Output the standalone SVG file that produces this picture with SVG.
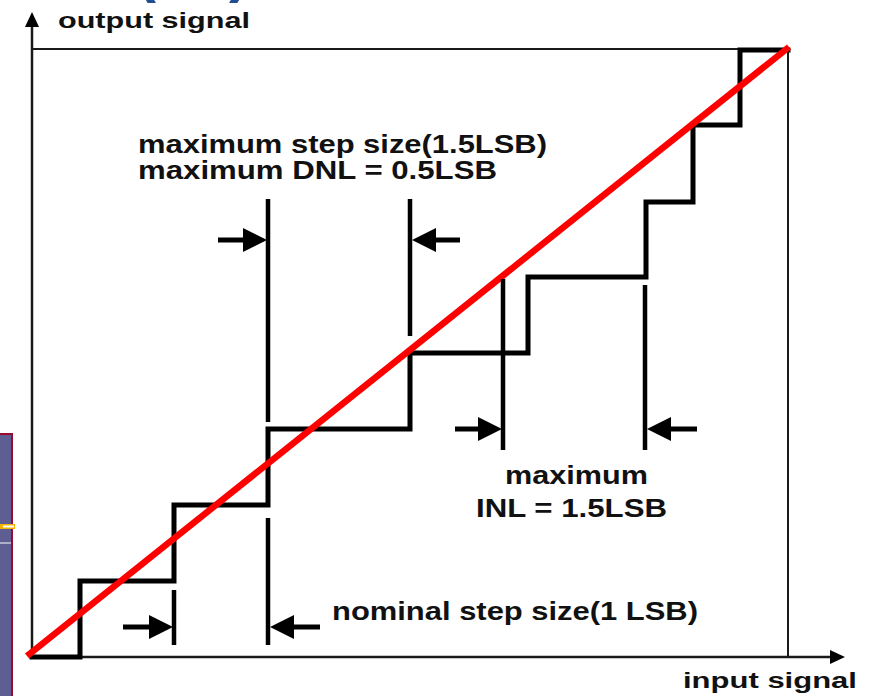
<svg xmlns="http://www.w3.org/2000/svg" width="877" height="696" viewBox="0 0 877 696">
  <style>
    .lbl { font-family: "Liberation Sans", Arial, Helvetica, sans-serif; font-weight: bold; fill: #111; }
    .frame { fill: none; stroke: #1a1a1a; stroke-width: 2; }
    .stair { fill: none; stroke: #000; stroke-width: 5; stroke-linejoin: miter; stroke-linecap: square; }
    .ideal { fill: none; stroke: #ff0000; stroke-width: 6.5; stroke-linecap: butt; }
    .tick { fill: none; stroke: #000; stroke-width: 4.5; }
    .shaft { fill: none; stroke: #000; stroke-width: 5; marker-end: url(#dimHead); }
    .axis { fill: none; stroke: #1a1a1a; stroke-width: 2.5; marker-end: url(#axisHead); }
  </style>
  <defs>
    <marker id="dimHead" markerUnits="userSpaceOnUse" viewBox="0 0 24 24" refX="0" refY="12" markerWidth="24" markerHeight="24" orient="auto">
      <path d="M0,0 L24,12 L0,24 Z" fill="#000"/>
    </marker>
    <marker id="axisHead" markerUnits="userSpaceOnUse" viewBox="0 0 16 16" refX="0" refY="8" markerWidth="16" markerHeight="16" orient="auto">
      <path d="M0,1 L15,8 L0,15 Z" fill="#000"/>
    </marker>
  </defs>

  <rect width="877" height="696" fill="#ffffff"/>

  <!-- clipped title brackets along the top edge -->
  <g id="title-fragment" fill="#1f4f8f">
    <text x="136" y="-9" style="font-family:'Liberation Sans',Arial,sans-serif;font-weight:bold;font-size:60px">(</text>
    <text x="229" y="-9" style="font-family:'Liberation Sans',Arial,sans-serif;font-weight:bold;font-size:60px">)</text>
  </g>

  <!-- side panel edge -->
  <g id="side-panel">
    <rect x="-3" y="434" width="15" height="270" fill="#5f5e93" stroke="#9a0a30" stroke-width="2"/>
    <rect x="0" y="524" width="15" height="5" fill="#f2b400"/>
    <rect x="3" y="525.5" width="11" height="2" fill="#ffffff"/>
    <line x1="0" y1="543" x2="11" y2="543" stroke="#ffffff" stroke-width="1"/>
  </g>

  <!-- plot frame and axes -->
  <g id="axes">
    <path class="frame" d="M32,49 H788 V657"/>
    <path class="axis" d="M32,657 V27"/>
    <path class="axis" d="M32,657 H830"/>
  </g>

  <!-- quantizer transfer characteristic -->
  <g id="staircase">
    <path class="stair" d="M32,657 H80 V581 H174 V505 H268 V429 H410 V353 H528 V277 H646 V202 H693 V125 H740 V50 H788"/>
  </g>

  <!-- ideal straight-line response -->
  <g id="ideal-line">
    <line class="ideal" x1="27" y1="656" x2="789" y2="47"/>
  </g>

  <!-- dimension ticks and arrows -->
  <g id="connectors">
    <line class="tick" x1="268" y1="199" x2="268" y2="422"/>
    <line class="tick" x1="410" y1="199" x2="410" y2="336"/>
    <line class="tick" x1="503" y1="279" x2="503" y2="450"/>
    <line class="tick" x1="645" y1="285" x2="645" y2="450"/>
    <line class="tick" x1="174" y1="590" x2="174" y2="645"/>
    <line class="tick" x1="268" y1="518" x2="268" y2="645"/>

    <line class="shaft" x1="218" y1="240" x2="243" y2="240"/>
    <line class="shaft" x1="460" y1="240" x2="436" y2="240"/>
    <line class="shaft" x1="455" y1="429" x2="478" y2="429"/>
    <line class="shaft" x1="697" y1="429" x2="671" y2="429"/>
    <line class="shaft" x1="123" y1="627" x2="149" y2="627"/>
    <line class="shaft" x1="320" y1="627" x2="294" y2="627"/>
  </g>

  <!-- labels -->
  <g id="labels">
    <text class="lbl" x="58" y="28" font-size="22" textLength="192" lengthAdjust="spacingAndGlyphs">output signal</text>
    <text class="lbl" x="683" y="688" font-size="22" textLength="174" lengthAdjust="spacingAndGlyphs">input signal</text>
    <g id="dnl-label">
      <text class="lbl" x="138" y="153" font-size="25" textLength="409" lengthAdjust="spacingAndGlyphs">maximum step size(1.5LSB)</text>
      <text class="lbl" x="138" y="179" font-size="25" textLength="359" lengthAdjust="spacingAndGlyphs">maximum DNL = 0.5LSB</text>
    </g>
    <g id="inl-label">
      <text class="lbl" x="505" y="484" font-size="25" textLength="143" lengthAdjust="spacingAndGlyphs">maximum</text>
      <text class="lbl" x="476" y="517" font-size="25" textLength="191" lengthAdjust="spacingAndGlyphs">INL = 1.5LSB</text>
    </g>
    <text id="lsb-label" class="lbl" x="332" y="620" font-size="25" textLength="366" lengthAdjust="spacingAndGlyphs">nominal step size(1 LSB)</text>
  </g>
</svg>
